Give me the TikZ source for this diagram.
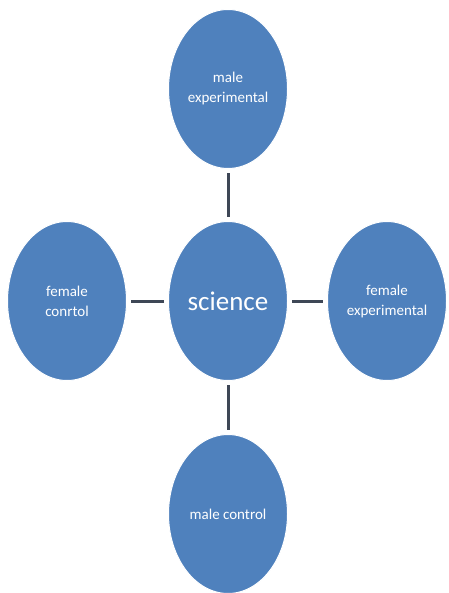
\documentclass[tikz,border=0pt]{standalone}
\usepackage{fontspec}
\setmainfont{Carlito}
\usepackage{tikz}
\usetikzlibrary{shapes.geometric}
\definecolor{blobblue}{HTML}{4F81BD}
\definecolor{spokegrey}{HTML}{3E4756}

\begin{document}
\begin{tikzpicture}[x=1pt,y=-1pt,
  bubble/.style={ellipse,fill=blobblue,draw=white,line width=1pt,
    minimum width=119pt,minimum height=159pt,inner sep=0pt,
    text=white,align=center,font=\fontsize{15}{20}\selectfont},
  spoke/.style={line width=3pt,spokegrey,shorten <=4pt,shorten >=4pt}]
\useasboundingbox (0,0) rectangle (448,593);
\node [bubble,font=\fontsize{27}{30}\selectfont] (sci) at (228,301) {science};
\node [bubble] (mexp) at (228,89) {male\\experimental};
\node [bubble] (fcon) at (67,301) {female\\conrtol};
\node [bubble] (fexp) at (387,301) {female\\experimental};
\node [bubble] (mcon) at (228,514) {male control};
\draw [spoke] (sci) -- (mexp);
\draw [spoke] (sci) -- (fcon);
\draw [spoke] (sci) -- (fexp);
\draw [spoke] (sci) -- (mcon);
\end{tikzpicture}
\end{document}
